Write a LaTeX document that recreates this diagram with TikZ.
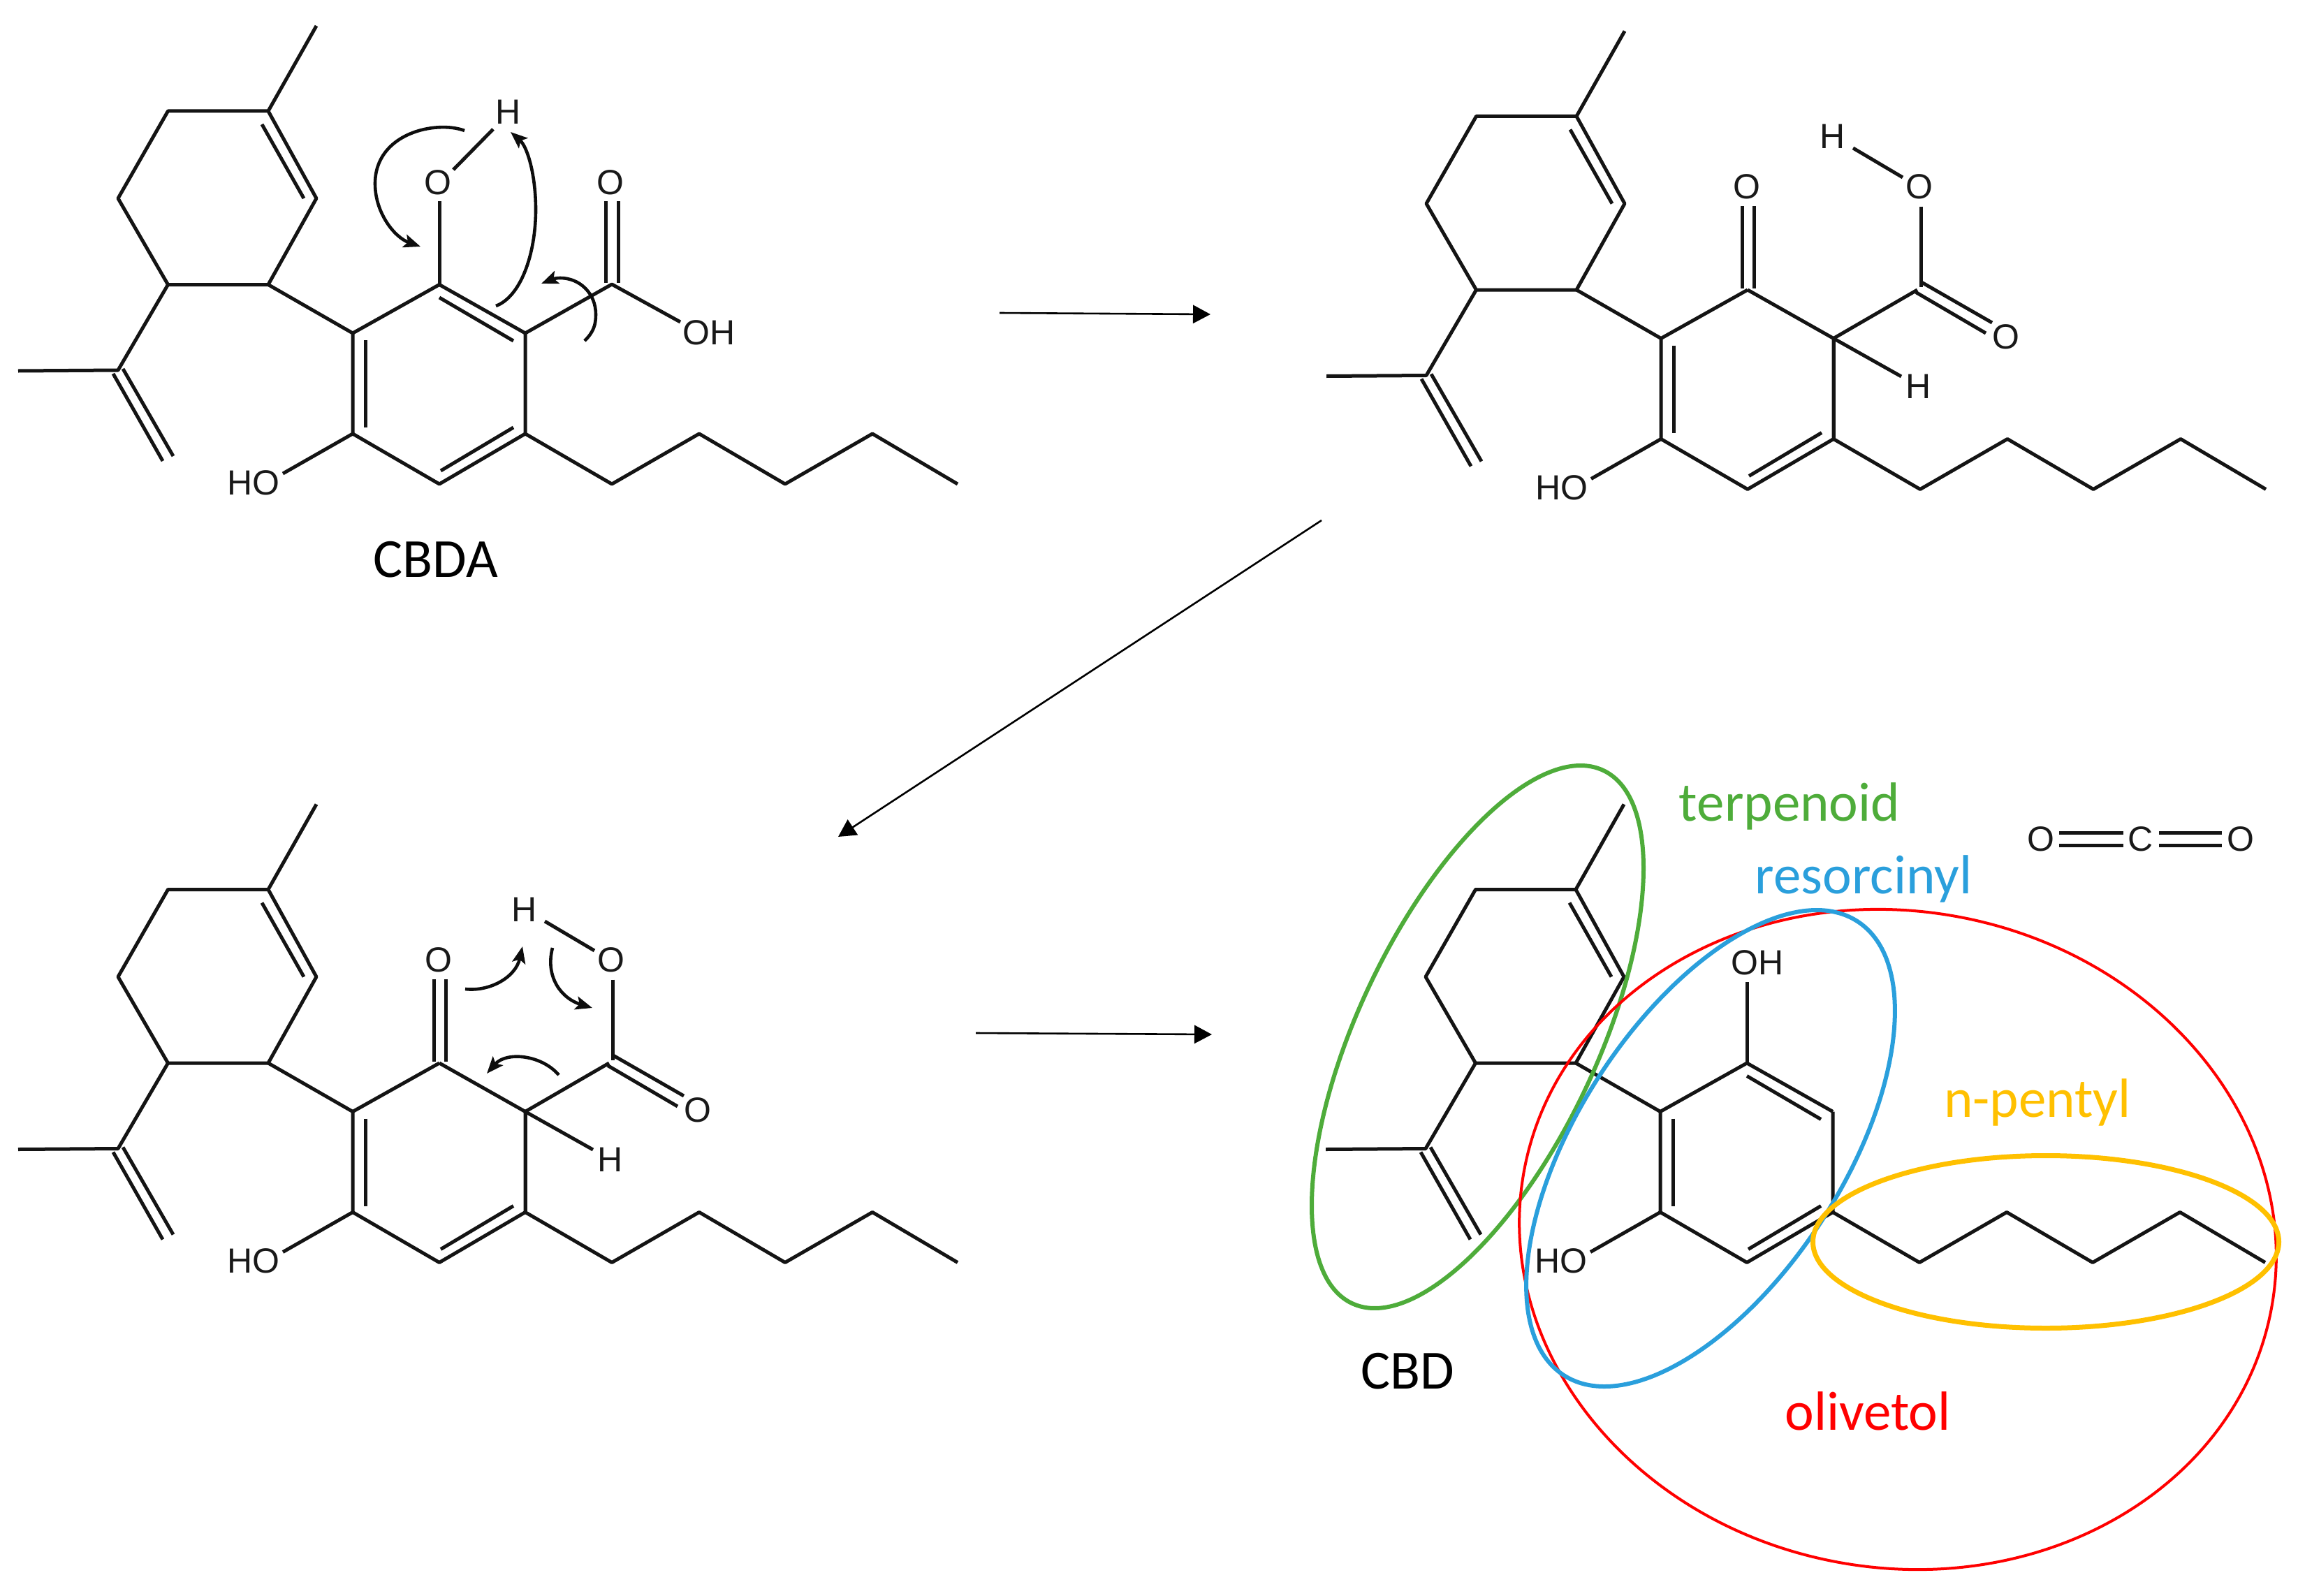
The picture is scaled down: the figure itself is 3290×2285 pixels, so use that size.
\documentclass[tikz,border=0pt]{standalone}
\usepackage{fontspec}
\usetikzlibrary{arrows.meta}
\newfontfamily\chemfont{Liberation Sans}
\newfontfamily\labfont{Carlito}
\definecolor{cgreen}{HTML}{4EAC3A}
\definecolor{cblue}{HTML}{2A9FDC}
\definecolor{cyellow}{HTML}{FFC000}
\definecolor{cred}{HTML}{FF0000}
\tikzset{
  bond/.style={line width=5pt,line join=round,black!92},
  atom/.style={inner sep=10pt,font=\chemfont\fontsize{50}{54}\selectfont,text=black!90},
  caption/.style={inner sep=0pt,anchor=base,font=\labfont\fontsize{79}{86}\selectfont},
  curly/.style={line width=4.6pt,black!95,-{Stealth[length=24pt,width=19pt,inset=5pt]}},
  react/.style={line width=2.6pt,black,-{Triangle[length=25pt,width=26pt]}},
  blob/.style={line width=#1,fill=none},
}
% common skeleton: terpene ring, isopropenyl, aromatic ring, pentyl chain, HO
\newcommand{\skel}{%
  \coordinate (me) at (453,37);
  \coordinate (r1) at (384,159); \coordinate (r2) at (240.5,159);
  \coordinate (r3) at (169,284); \coordinate (r4) at (240.5,407.5);
  \coordinate (r5) at (384,407.5); \coordinate (r6) at (453,284);
  \coordinate (ip) at (169,530); \coordinate (ipme) at (26,531);
  \coordinate (a1) at (505,477); \coordinate (a2) at (629,407.5);
  \coordinate (a3) at (752,477); \coordinate (a4) at (752,621);
  \coordinate (a5) at (629,693); \coordinate (a6) at (505,621);
  \coordinate (hoend) at (405,678);
  \node[atom] (ho) at (362.5,691) {HO};
  \draw[bond] (me) -- (r1) -- (r2) -- (r3) -- (r4) -- (r5) -- (r6) -- (r1);
  \draw[bond] (375,178) -- (435,284);
  \draw[bond] (r4) -- (ip) -- (ipme);
  \draw[bond] (176,528) -- (248,653);
  \draw[bond] (162,535) -- (233,660);
  \draw[bond] (r5) -- (a1) -- (a2) (a3) -- (a4) -- (a5) -- (a6) -- (a1);
  \draw[bond] (523,487) -- (523,612);
  \draw[bond] (631,674) -- (735,612);
  \draw[bond] (a6) -- (hoend);
  \draw[bond] (a4) -- (876,693) -- (1001,621) -- (1124,693) -- (1249,621) -- (1371,693);
}
\newcommand{\aromdouble}{%
  \draw[bond] (a2) -- (a3);
  \draw[bond] (629,426) -- (735,488);
}
% keto-acid substituents of the intermediate
\newcommand{\keto}{%
  \node[atom] (ko) at (628,259.5) {O};
  \node[atom] (oh) at (875,259.5) {O};
  \node[atom] (hh) at (751,188) {H};
  \node[atom] (o2) at (999,474.5) {O};
  \node[atom] (h2) at (874,545.5) {H};
  \coordinate (cx) at (872,407.5);
  \draw[bond] (a2) -- (a3) -- (cx);
  \draw[bond] (a3) -- (a4);
  \draw[bond] (621,287.5) -- (621,405.5);
  \draw[bond] (638,287.5) -- (638,405.5);
  \draw[bond] (877,288) -- (877,403);
  \draw[bond] (877,396) -- (979,454.5);
  \draw[bond] (870,411) -- (970,469.5);
  \coordinate (hb1) at (780,204.5); \coordinate (hb2) at (851,246.5);
  \coordinate (hb3) at (849,531.5);
  \draw[bond] (hb1) -- (hb2);
  \draw[bond] (a3) -- (hb3);
}
\begin{document}
\begin{tikzpicture}[x=1pt,y=-1pt]
\useasboundingbox (0,0) rectangle (3290,2285);
% --- CBDA
\begin{scope}
  \skel \aromdouble
  \node[atom] (o1) at (627,261) {O};
  \node[atom] (h1) at (728,160) {H};
  \node[atom] (o3) at (874,261) {O};
  \node[atom] (oh3) at (1015,476) {OH};
  \coordinate (cc) at (876,407); \coordinate (oe) at (974,461);
  \coordinate (ohe1) at (649,243); \coordinate (ohe2) at (706,185);
  \coordinate (ohe3) at (629,288);
  \draw[bond] (a3) -- (cc) -- (oe);
  \draw[bond] (ohe3) -- (a2);
  \draw[bond] (ohe1) -- (ohe2);
  \draw[bond] (867,288) -- (867,405);
  \draw[bond] (885,288) -- (885,405);
  \draw[curly] (665,187) .. controls (625,172) and (537,190) .. (537,263) .. controls (537,305) and (565,340) .. (602,353);
  \draw[curly] (710,438) .. controls (745,425) and (767,365) .. (767,300) .. controls (767,250) and (755,210) .. (731,189);
  \draw[curly] (837,488) .. controls (850,475) and (853,465) .. (853,450) .. controls (853,420) and (830,398) .. (802,398) .. controls (792,398) and (785,402) .. (775,406);
  \node[caption] (cbda) at (624,826) {CBDA};
\end{scope}
% --- intermediate, top right
\begin{scope}[shift={(1873,7.5)}]
  \skel \keto
\end{scope}
% --- intermediate, bottom left
\begin{scope}[shift={(0,1114.5)}]
  \skel \keto
  \draw[curly] (666,301.5) .. controls (700,305.5) and (738,285.5) .. (748,240.5);
  \draw[curly] (791,242.5) .. controls (780,285.5) and (805,315.5) .. (848,328.5);
  \draw[curly] (800,424.5) .. controls (775,395.5) and (725,390.5) .. (697,422.5);
\end{scope}
% --- CBD
\begin{scope}[shift={(1872,1114.5)}]
  \skel \aromdouble
  \node[atom] (oh4) at (644,263.5) {OH};
  \coordinate (ohe4) at (629,291.5);
  \draw[bond] (a2) -- (ohe4);
\end{scope}
\node[caption] (cbd) at (2015,1988) {CBD};
% --- CO2
\node[atom] (co1) at (2922,1201) {O};
\node[atom] (coc) at (3065,1201) {C};
\node[atom] (co2) at (3208,1201) {O};
\draw[bond] (2948,1192) -- (3040,1192) (2948,1210) -- (3040,1210);
\draw[bond] (3091,1192) -- (3181,1192) (3091,1210) -- (3181,1210);
% --- reaction arrows
\coordinate (s1) at (1431,448); \coordinate (e1) at (1733,450);
\coordinate (s2) at (1892,745); \coordinate (e2) at (1200,1198);
\coordinate (s3) at (1397,1479); \coordinate (e3) at (1735,1481);
\draw[react] (s1) -- (e1);
\draw[react] (s2) -- (e2);
\draw[react] (s3) -- (e3);
% --- highlight ellipses
\draw[cgreen,blob=6pt,rotate around={64.75:(2115.5,1484.5)}] (2115.5,1484.5) ellipse [x radius=421.8,y radius=171.4];
\draw[cred,blob=4pt,rotate around={-10.3:(2717,1774.5)}] (2717,1774.5) ellipse [x radius=544,y radius=470];
\draw[cblue,blob=6pt,rotate around={57.1:(2449,1644)}] (2449,1644) ellipse [x radius=387,y radius=190];
\draw[cyellow,blob=7pt] (2929,1778) ellipse [x radius=333.5,y radius=123.5];
% --- labels
\node[caption,text=cgreen] (tp) at (2562,1175) {terpenoid};
\node[caption,text=cblue] (rs) at (2668,1279) {resorcinyl};
\node[caption,text=cyellow] (np) at (2917,1599) {n-pentyl};
\node[caption,text=cred] (ol) at (2674,2047) {olivetol};
\end{tikzpicture}
\end{document}
